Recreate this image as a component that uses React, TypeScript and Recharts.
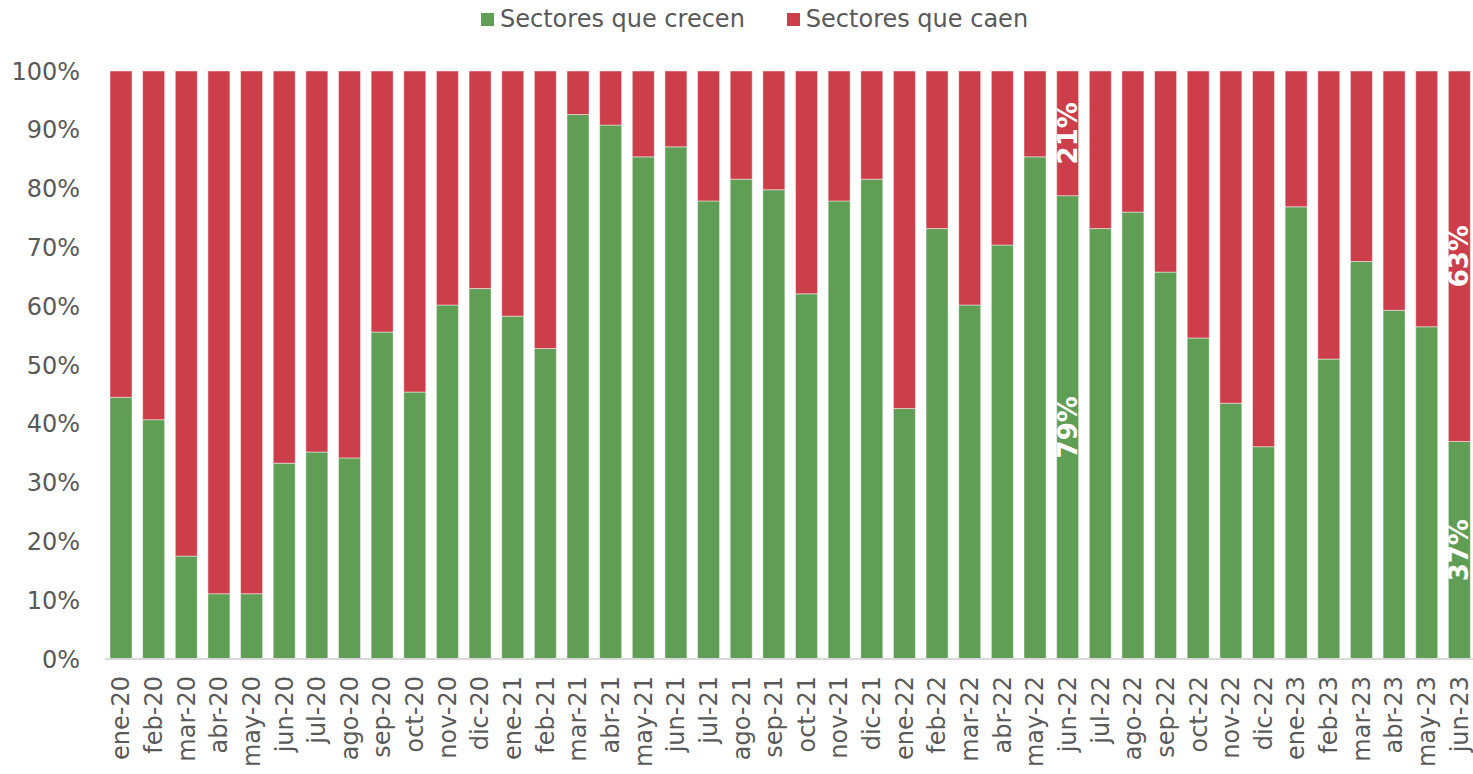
import { BarChart, Bar, XAxis, YAxis, LabelList } from 'recharts';

const months = [
  'ene-20', 'feb-20', 'mar-20', 'abr-20', 'may-20', 'jun-20', 'jul-20', 'ago-20', 'sep-20', 'oct-20', 'nov-20', 'dic-20',
  'ene-21', 'feb-21', 'mar-21', 'abr-21', 'may-21', 'jun-21', 'jul-21', 'ago-21', 'sep-21', 'oct-21', 'nov-21', 'dic-21',
  'ene-22', 'feb-22', 'mar-22', 'abr-22', 'may-22', 'jun-22', 'jul-22', 'ago-22', 'sep-22', 'oct-22', 'nov-22', 'dic-22',
  'ene-23', 'feb-23', 'mar-23', 'abr-23', 'may-23', 'jun-23',
];

// % de sectores que crecen
const crecen = [
  44.5, 40.7, 17.5, 11.1, 11.1, 33.3, 35.2, 34.2, 55.6, 45.4, 60.2, 63.0,
  58.3, 52.8, 92.6, 90.8, 85.4, 87.1, 77.9, 81.6, 79.8, 62.1, 77.9, 81.6,
  42.6, 73.2, 60.2, 70.4, 85.4, 78.8, 73.2, 76.0, 65.8, 54.6, 43.5, 36.1,
  76.9, 51.0, 67.6, 59.3, 56.5, 37.0,
];

const labeled = ['jun-22', 'jun-23'];
const yTicks = [0, 10, 20, 30, 40, 50, 60, 70, 80, 90, 100];

const GREEN = '#609e55';
const RED = '#cc3f4a';
const FONT = '"DejaVu Sans", Verdana, sans-serif';
const GREY = '#595959';

const data = months.map((m, i) => ({ mes: m, crecen: crecen[i], caen: 100 - crecen[i] }));

const series = [
  { key: 'crecen', name: 'Sectores que crecen', color: GREEN },
  { key: 'caen', name: 'Sectores que caen', color: RED },
];

const XTick = (props: any) => {
  const { x, y, payload } = props;
  return (
    <text
      x={x}
      y={y}
      transform={`rotate(-90, ${x}, ${y})`}
      textAnchor="end"
      dominantBaseline="central"
      fill={GREY}
      fontSize={24}
      fontFamily={FONT}
    >
      {payload.value}
    </text>
  );
};

const BarLabel = (props: any) => {
  const { x, y, width, height, value, index } = props;
  if (!labeled.includes(months[index])) return null;
  const cx = x + width / 2;
  const cy = y + height / 2;
  return (
    <text
      x={cx}
      y={cy}
      transform={`rotate(-90, ${cx}, ${cy})`}
      textAnchor="middle"
      dominantBaseline="central"
      fill="#ffffff"
      fontSize={26}
      fontWeight="bold"
      fontFamily={FONT}
    >
      {Math.round(value)}%
    </text>
  );
};

export default function App() {
  return (
    <div style={{ position: 'absolute', left: 0, top: 0, width: 1473, height: 774, overflow: 'hidden', background: '#fff' }}>
      <div
        style={{
          position: 'absolute',
          top: 5,
          left: 481,
          display: 'flex',
          alignItems: 'center',
          fontFamily: FONT,
          fontSize: 24,
          color: GREY,
          whiteSpace: 'nowrap',
        }}
      >
        {series.map((s) => (
          <div key={s.key} style={{ display: 'flex', alignItems: 'center', marginRight: 42 }}>
            <span style={{ width: 13, height: 13, background: s.color, display: 'inline-block', marginRight: 6 }} />
            <span>{s.name}</span>
          </div>
        ))}
      </div>
      <BarChart
        width={1480}
        height={774}
        data={data}
        margin={{ top: 71, right: 4, bottom: 0, left: 0 }}
        barSize={22}
      >
        <XAxis
          dataKey="mes"
          interval={0}
          tick={<XTick />}
          tickLine={false}
          axisLine={{ stroke: '#d9d9d9', strokeWidth: 2 }}
          tickSize={0}
          tickMargin={17}
          height={115}
        />
        <YAxis
          domain={[0, 100]}
          ticks={yTicks}
          tickFormatter={(v: number) => `${v}%`}
          axisLine={false}
          tickLine={false}
          tickSize={0}
          tickMargin={25}
          width={105}
          tick={{ fill: GREY, fontSize: 24, fontFamily: FONT }}
        />
        {series.map((s) => (
          <Bar
            key={s.key}
            dataKey={s.key}
            name={s.name}
            stackId="a"
            fill={s.color}
            stroke="#ffffff"
            strokeOpacity={0.45}
            strokeWidth={1}
            isAnimationActive={false}
          >
            <LabelList dataKey={s.key} content={<BarLabel />} />
          </Bar>
        ))}
      </BarChart>
    </div>
  );
}
